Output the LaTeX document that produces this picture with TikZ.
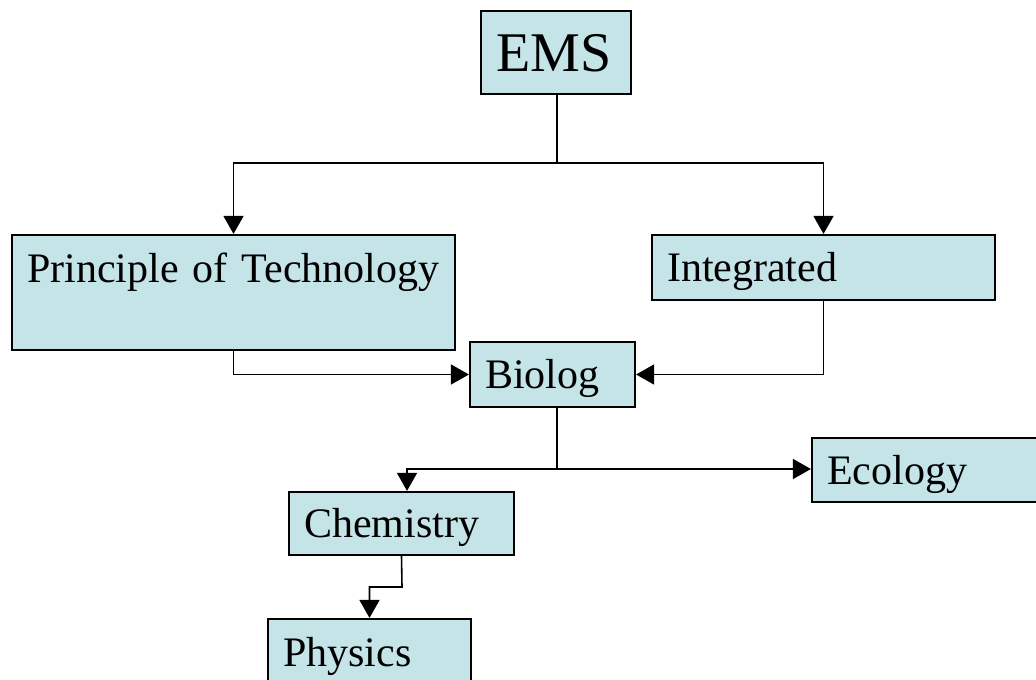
\documentclass[tikz,border=0pt]{standalone}
\usepackage{fontspec}
\setmainfont{Liberation Serif}
\usetikzlibrary{arrows.meta}
\definecolor{boxfill}{RGB}{196,228,231}

\begin{document}
\begin{tikzpicture}[x=0.5pt, y=-0.5pt,
    box/.style={draw, line width=1.1pt, fill=boxfill, align=left, inner xsep=7.5pt, inner ysep=0pt,
      text height=15.75pt, text depth=1.7pt, font=\fontsize{21}{25}\selectfont},
    link/.style={line width=0.8pt},
    arr/.style={line width=0.8pt, -{Triangle[length=9pt, width=10pt]}}]
  \useasboundingbox (0,0) rectangle (1036,679);
  \node[box, text width=60pt, minimum height=41.5pt, text height=21pt, text depth=2.2pt, font=\fontsize{28}{32}\selectfont] (nEMS) at (556,52.5) {EMS};
  \node[box, text width=206.5pt, minimum height=57.5pt, text depth=26.25pt] (nPrinc) at (233.5,292.5) {Principle of Technology};
  \node[box, text width=156.5pt, minimum height=32.5pt] (nInteg) at (823.5,267.5) {Integrated};
  \node[box, text width=67.5pt, minimum height=32.5pt] (nBio) at (552.5,374.5) {Biolog};
  \node[box, text width=109pt, minimum height=32pt] (nEco) at (936,470) {Ecology};
  \node[box, text width=97.5pt, minimum height=31.5pt] (nChem) at (401.5,523.5) {Chemistry};
  \node[box, text width=86.5pt, minimum height=33pt] (nPhys) at (369.5,652) {Physics};
  \coordinate (cTop) at (557,163);
  \coordinate (cBio) at (557,469);
  \coordinate (cChem) at (407,469);
  \coordinate (cPhys) at (402,587);
  \draw[link] (cTop |- nEMS.south) -- (cTop);
  \draw[arr] (cTop) -| (nPrinc);
  \draw[arr] (cTop) -| (nInteg);
  \draw[arr] (nPrinc) |- (nBio);
  \draw[arr] (nInteg) |- (nBio);
  \draw[link] (cBio |- nBio.south) -- (cBio);
  \draw[arr] (cBio) -- (cChem) -- (cChem |- nChem.north);
  \draw[arr] (cBio) -- (cBio -| nEco.west);
  \draw[arr] (nChem.south) -- (cPhys) -| (nPhys);
\end{tikzpicture}
\end{document}
